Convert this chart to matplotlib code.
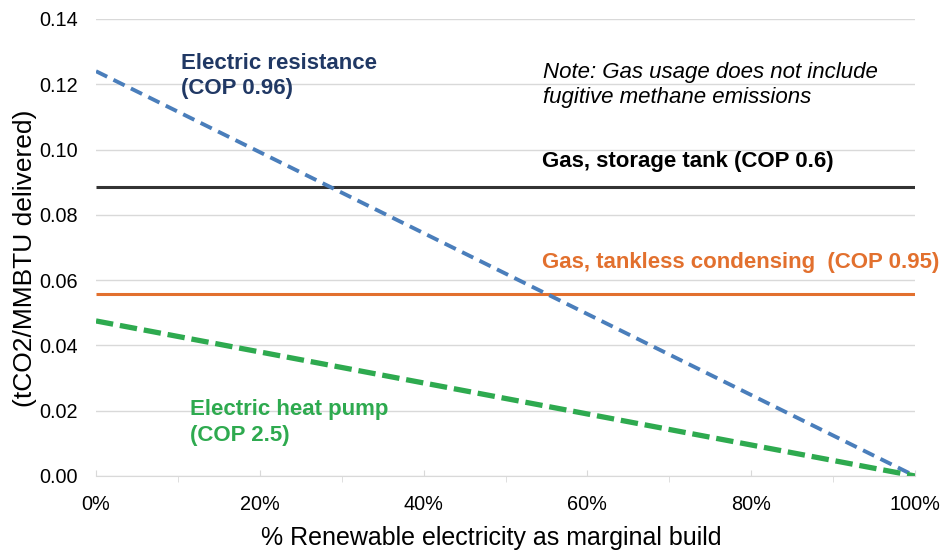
import matplotlib
matplotlib.use('Agg')
import matplotlib.pyplot as plt
import numpy as np

plt.rcParams['font.family'] = ['Liberation Sans', 'DejaVu Sans']

# data
renewable_pct = [0, 100]
elec_resistance = [0.124, 0.0]
elec_heat_pump = [0.0475, 0.0]
gas_storage = [0.0885, 0.0885]
gas_tankless = [0.0557, 0.0557]

y_ticks = [0.00, 0.02, 0.04, 0.06, 0.08, 0.10, 0.12, 0.14]
x_ticks = [0, 20, 40, 60, 80, 100]

fig = plt.figure(figsize=(9.45, 5.52), dpi=100)
ax = fig.add_axes([0.1016, 0.1377, 0.8667, 0.8279])

ax.plot(renewable_pct, gas_storage, color='#333333', lw=2.2, solid_capstyle='butt')
ax.plot(renewable_pct, gas_tankless, color='#E2702E', lw=2.2, solid_capstyle='butt')
ax.plot(renewable_pct, elec_resistance, color='#4A7EBB', lw=2.8, linestyle=(0, (3.2, 1.8)))
ax.plot(renewable_pct, elec_heat_pump, color='#2EAA4F', lw=3.8, linestyle=(0, (3.3, 1.3)))

ax.set_xlim(0, 100)
ax.set_ylim(0, 0.14)
ax.set_yticks(y_ticks)
ax.set_yticklabels(['%.2f' % v for v in y_ticks])
ax.set_xticks(x_ticks)
ax.set_xticklabels(['%d%%' % v for v in x_ticks])
ax.set_xticks(np.arange(10, 100, 20), minor=True)

ax.grid(axis='y', color='#D9D9D9', lw=1)
ax.set_axisbelow(True)
for s in ['top', 'right', 'left']:
    ax.spines[s].set_visible(False)
ax.spines['bottom'].set_color('#D9D9D9')
ax.tick_params(axis='y', length=0, labelsize=14.3, pad=13)
ax.tick_params(axis='x', which='major', direction='in', length=4, color='#D9D9D9',
               labelsize=14.3, pad=14)
ax.tick_params(axis='x', which='minor', direction='out', length=4, color='#D9D9D9')

ax.set_xlabel('% Renewable electricity as marginal build', fontsize=18, va='center')
ax.xaxis.set_label_coords(0.483, -0.136)
ax.set_ylabel('(tCO2/MMBTU delivered)', fontsize=19, va='center')
ax.yaxis.set_label_coords(-0.087, 0.477)

ax.text(10.4, 0.1225, 'Electric resistance\n(COP 0.96)', color='#203864', fontsize=16,
        fontweight='bold', va='center', linespacing=1.25)
ax.text(54.6, 0.1198, 'Note: Gas usage does not include\nfugitive methane emissions',
        fontsize=16, style='italic', va='center', linespacing=1.3)
ax.text(54.5, 0.0962, 'Gas, storage tank (COP 0.6)', fontsize=16, fontweight='bold', va='center')
ax.text(54.5, 0.0653, 'Gas, tankless condensing  (COP 0.95)', color='#E2702E', fontsize=16,
        fontweight='bold', va='center')
ax.text(11.5, 0.0165, 'Electric heat pump\n(COP 2.5)', color='#2EAA4F', fontsize=16,
        fontweight='bold', va='center', linespacing=1.3)

fig.savefig('out.png', dpi=100)
